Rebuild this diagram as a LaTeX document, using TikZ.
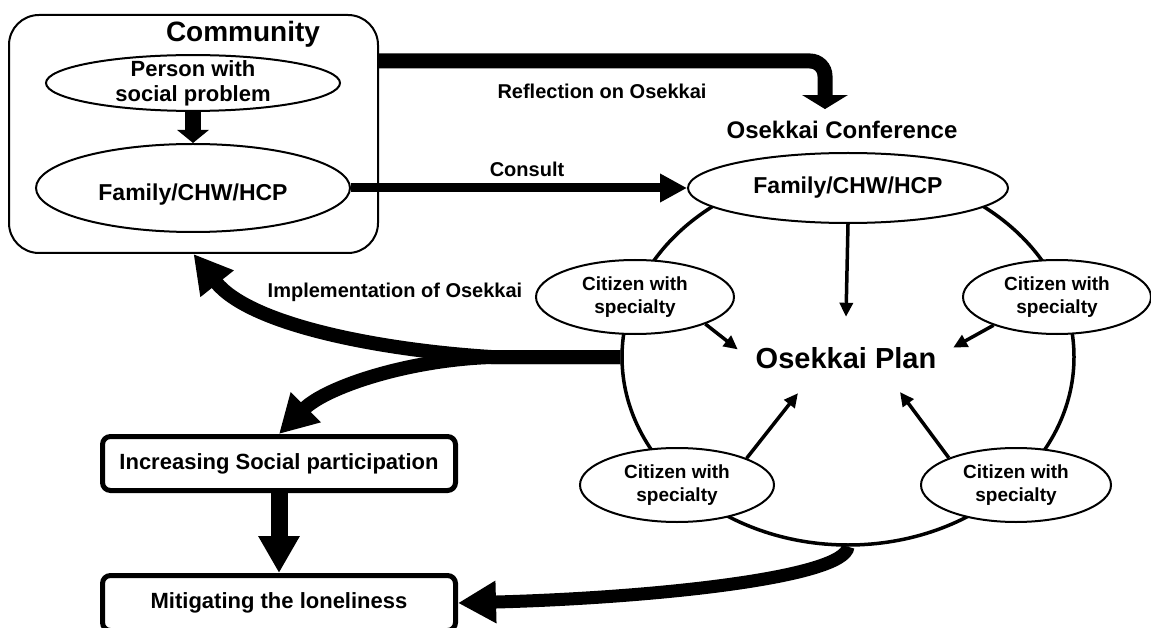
\documentclass[tikz,border=0pt]{standalone}
\usepackage{fontspec}
\setmainfont{Liberation Sans}
\usetikzlibrary{arrows.meta,shapes.geometric}

\begin{document}
\begin{tikzpicture}[x=1pt, y=-1pt, every node/.style={font=\bfseries},
  oval/.style={draw, ellipse, line width=2pt, fill=white, inner sep=0pt, align=center},
  cit/.style={oval, minimum width=194pt, minimum height=74pt, font=\bfseries\fontsize{19}{23}\selectfont},
  lbl/.style={anchor=base, font=\bfseries\fontsize{20}{22}\selectfont},
  goalbox/.style={draw, line width=5pt, rounded corners=8pt, minimum width=353pt, minimum height=54pt, font=\bfseries\fontsize{22}{24}\selectfont},
  thinarr/.style={line width=3.5pt, -{Triangle[width=13pt,length=14pt]}},
  fatarr/.style={line width=14pt, -{Triangle[width=40pt,length=38pt]}}]
\useasboundingbox (0,0) rectangle (1151,628);

% community side
\node[draw, rounded corners=30pt, line width=2pt, minimum width=369pt, minimum height=238pt] (community) at (193.5,134) {};
\node[anchor=base, font=\bfseries\fontsize{28}{30}\selectfont] (commtitle) at (243,42) {Community};
\node[oval, minimum width=294pt, inner ysep=-3pt, font=\bfseries\fontsize{22}{25}\selectfont] (person) at (193,83) {Person with\\social problem};
\node[oval, minimum width=314pt, minimum height=88pt, text height=30pt, text depth=5pt, font=\bfseries\fontsize{23}{25}\selectfont] (famL) at (193,188) {Family/CHW/HCP};
\draw[line width=16pt, -{Triangle[width=31pt,length=13pt]}] (person.south) -- (famL.north);

% conference
\node[draw, ellipse, line width=3.5pt, minimum width=452pt, minimum height=376pt] (ring) at (848,357) {};
\node[anchor=base, font=\bfseries\fontsize{24}{26}\selectfont] (conf) at (842,139) {Osekkai Conference};
\node[oval, minimum width=320pt, minimum height=70pt, font=\bfseries\fontsize{23}{25}\selectfont] (famR) at (848,188) {Family/CHW/HCP};
\node[ellipse, minimum width=220pt, minimum height=80pt, inner sep=0pt] (plan) at (846,357) {};
\node[anchor=base, font=\bfseries\fontsize{29}{31}\selectfont] (plantext) at (846,368) {Osekkai Plan};
\node[cit, minimum width=198pt] (citTL) at (635,297) {Citizen with\\specialty};
\node[cit, minimum width=188pt] (citTR) at (1057,297) {Citizen with\\specialty};
\node[cit] (citBL) at (677,485) {Citizen with\\specialty};
\node[cit, minimum width=190pt] (citBR) at (1016,485) {Citizen with\\specialty};

\draw[thinarr] (famR.south) -- (plan.north);
\draw[thinarr] (citTL.339) -- (plan.176);
\draw[thinarr] (citTR.204) -- (plan.5);
\draw[thinarr] (citBL.21) -- (plan.217);
\draw[thinarr] (citBR.158) -- (plan.327);

% outcomes
\node[goalbox] (incr) at (279,463.5) {Increasing Social participation};
\node[goalbox, minimum height=55pt] (mitig) at (279,603) {Mitigating the loneliness};
\draw[line width=17pt, -{Triangle[width=39pt,length=37pt]}] (incr.south) -- (mitig.north);

% flows between the two sides
\draw[line width=15pt, rounded corners=15pt, -{Triangle[width=45pt,length=14pt]}]
  (community.east |- 0,61) -| ([xshift=-17pt,yshift=9pt]conf.north);
\node[lbl] (refl) at (602,99) {Reflection on Osekkai};
\draw[line width=9pt, -{Triangle[width=27pt,length=27pt]}] (famL.east) -- (famR.west);
\node[lbl] (consult) at (527,177) {Consult};

\draw[fatarr] (ring.west) -- ++(-129,0) .. controls (380,350) and (250,325) .. (community.south);
\draw[fatarr] (ring.west) -- ++(-129,0) .. controls (405,360) and (325,388) .. (incr.north);
\node[lbl] (impl) at (395,298) {Implementation of Osekkai};
\draw[fatarr, line width=13pt] (ring.south) .. controls (845,578) and (650,598) .. (mitig.east);
\end{tikzpicture}
\end{document}
